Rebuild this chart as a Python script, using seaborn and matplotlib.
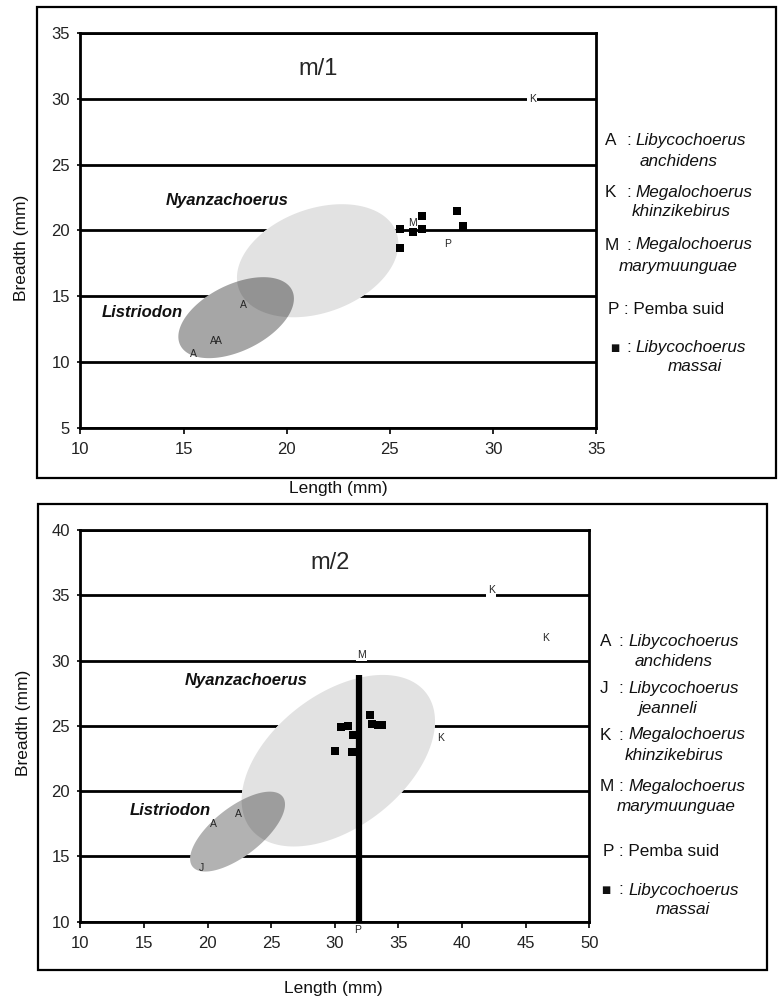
import numpy as np
import pandas as pd
import matplotlib
matplotlib.use("Agg")
import matplotlib.pyplot as plt
from matplotlib.patches import Rectangle
import seaborn as sns

# ---------------- data: m/1 ----------------
m1_massai_x = [25.5, 25.5, 26.1, 26.55, 26.55, 28.25, 28.55]
m1_massai_y = [20.1, 18.7, 19.85, 21.1, 20.1, 21.5, 20.35]
m1_letters = ["K", "M", "P", "A", "A", "A", "A"]
m1_letter_x = [31.9, 26.1, 27.8, 17.9, 16.45, 16.7, 15.5]
m1_letter_y = [30.0, 20.6, 19.0, 14.3, 11.6, 11.6, 10.6]
m1_region_names = ["Nyanzachoerus", "Listriodon"]
m1_region_cx = [21.5, 17.55]
m1_region_cy = [17.7, 13.37]
m1_region_hx = [3.91, 2.80]      # half extent along Length
m1_region_hy = [4.3, 3.08]       # half extent along Breadth
m1_region_rho = [0.30, 0.47]     # tilt (correlation)
m1_region_label_x = [17.1, 13.0]
m1_region_label_y = [22.25, 13.75]
m1_xticks = [10, 15, 20, 25, 30, 35]
m1_yticks = [5, 10, 15, 20, 25, 30, 35]

# ---------------- data: m/2 ----------------
m2_massai_x = [30.0, 31.38, 30.5, 31.07, 31.46, 32.78, 32.95, 33.4, 33.75]
m2_massai_y = [23.1, 23.0, 24.9, 25.0, 24.3, 25.85, 25.15, 25.05, 25.05]
m2_letters = ["K", "K", "K", "M", "P", "A", "A", "J"]
m2_letter_x = [42.3, 46.6, 38.3, 32.1, 31.8, 20.5, 22.4, 19.5]
m2_letter_y = [35.4, 31.75, 24.05, 30.45, 9.35, 17.45, 18.25, 14.1]
m2_pemba_bar_x = [31.88]
m2_pemba_bar_low = [10.0]
m2_pemba_bar_high = [28.9]
m2_region_names = ["Nyanzachoerus", "Listriodon"]
m2_region_cx = [30.28, 22.36]
m2_region_cy = [22.33, 16.9]
m2_region_hx = [7.60, 3.73]
m2_region_hy = [6.57, 3.06]
m2_region_rho = [0.46, 0.68]
m2_region_label_x = [23.0, 17.05]
m2_region_label_y = [28.5, 18.5]
m2_xticks = [10, 15, 20, 25, 30, 35, 40, 45, 50]
m2_yticks = [10, 15, 20, 25, 30, 35, 40]

m1_legend_keys = ["A", "K", "M", "P", "\u25a0"]
m1_legend_genus = ["Libycochoerus", "Megalochoerus", "Megalochoerus", "Pemba suid", "Libycochoerus"]
m1_legend_species = ["anchidens", "khinzikebirus", "marymuunguae", None, "massai"]
m2_legend_keys = ["A", "J", "K", "M", "P", "\u25a0"]
m2_legend_genus = ["Libycochoerus", "Libycochoerus", "Megalochoerus", "Megalochoerus", "Pemba suid", "Libycochoerus"]
m2_legend_species = ["anchidens", "jeanneli", "khinzikebirus", "marymuunguae", None, "massai"]

# ---------------- style ----------------
sns.set_theme(style="white")
plt.rcParams['font.family'] = ['Liberation Sans', 'DejaVu Sans']

W, H = 778, 998
fig = plt.figure(figsize=(W / 100, H / 100), dpi=100)
fig.patch.set_facecolor("white")


def fx(px):
    return px / W


def fy(py):
    return 1 - py / H


def region_outline(cx, cy, hx, hy, rho, n=240):
    t = np.linspace(0, 2 * np.pi, n)
    x = cx + hx * np.cos(t)
    y = cy + hy * (rho * np.cos(t) + np.sqrt(1 - rho ** 2) * np.sin(t))
    return x, y


def panel(ax, title, title_xy, xlim, ylim, xticks, yticks, massai_x, massai_y,
          letters, lx, ly, boxed, names, cx, cy, hx, hy, rho, nlx, nly,
          list_alpha, sq_size, bar=None):
    ax.set_xlim(*xlim)
    ax.set_ylim(*ylim)
    ax.set_xticks(xticks)
    ax.set_yticks(yticks)
    ax.set_xticklabels([str(v) for v in xticks])
    ax.set_yticklabels([str(v) for v in yticks])
    for s in ax.spines.values():
        s.set_visible(True)
        s.set_color("black")
        s.set_linewidth(2.0)
    ax.tick_params(axis="x", direction="out", length=4, width=1.2, color="black",
                   labelsize=12, pad=6, bottom=True, labelcolor="#222222")
    ax.tick_params(axis="y", direction="out", length=2.5, width=1.2, color="black",
                   labelsize=12, pad=5, left=True, labelcolor="#222222")
    for yv in yticks:
        ax.axhline(yv, color="black", lw=2.0, zorder=1)

    outlines = [region_outline(cx[i], cy[i], hx[i], hy[i], rho[i]) for i in range(len(names))]
    for x, y in outlines:
        ax.fill(x, y, color="white", lw=0, zorder=2)
    ax.fill(*outlines[0], color="#e2e2e2", lw=0, zorder=3)
    ax.fill(*outlines[1], color="black", alpha=list_alpha, lw=0, zorder=4)
    for i, nm in enumerate(names):
        ax.text(nlx[i], nly[i], nm, ha="center", va="center", fontsize=12,
                fontweight="bold", fontstyle="italic", color="#111111", zorder=8)

    if bar is not None:
        bx, blo, bhi = bar
        ax.vlines(bx, blo, bhi, color="black", lw=4.5, zorder=5)

    for i, lt in enumerate(letters):
        kw = {}
        if boxed[i]:
            kw["bbox"] = dict(boxstyle="square,pad=0.15", fc="white", ec="none")
        ax.text(lx[i], ly[i], lt, ha="center", va="center", fontsize=7.5,
                zorder=5.5, clip_on=False, **kw)

    df = pd.DataFrame({"Length": massai_x, "Breadth": massai_y})
    sns.scatterplot(data=df, x="Length", y="Breadth", marker="s", s=sq_size,
                    color="black", edgecolor="black", linewidth=0, ax=ax, zorder=6,
                    legend=False)

    ax.text(title_xy[0], title_xy[1], title, ha="center", va="center", fontsize=17, zorder=8)


# ---- top panel ----
ax1 = fig.add_axes([fx(80.3), fy(427.7), (596.3 - 80.3) / W, (427.7 - 33.3) / H])
panel(ax1, "m/1", (21.5, 32.3), (10, 35), (5, 35), m1_xticks, m1_yticks,
      m1_massai_x, m1_massai_y, m1_letters, m1_letter_x, m1_letter_y,
      [l in ("K", "M", "P") for l in m1_letters],
      m1_region_names, m1_region_cx, m1_region_cy, m1_region_hx, m1_region_hy,
      m1_region_rho, m1_region_label_x, m1_region_label_y, 0.35, 27)

# ---- bottom panel ----
ax2 = fig.add_axes([fx(80.3), fy(921.7), (589.2 - 80.3) / W, (921.7 - 530) / H])
panel(ax2, "m/2", (29.6, 37.45), (10, 50), (10, 40), m2_xticks, m2_yticks,
      m2_massai_x, m2_massai_y, m2_letters, m2_letter_x, m2_letter_y,
      [l in ("K", "M", "P") for l in m2_letters],
      m2_region_names, m2_region_cx, m2_region_cy, m2_region_hx, m2_region_hy,
      m2_region_rho, m2_region_label_x, m2_region_label_y, 0.30, 34,
      bar=(m2_pemba_bar_x, m2_pemba_bar_low, m2_pemba_bar_high))

# axis labels
for ax, xl_x, xl_y, yl_x, yl_y in [(ax1, 338, 488, 22, 248), (ax2, 333, 988, 24, 723)]:
    ax.set_xlabel("Length (mm)", fontsize=12.5, color="#111111")
    ax.set_ylabel("Breadth (mm)", fontsize=12.5, color="#111111")
    bb = ax.get_position()
    ax.xaxis.set_label_coords((fx(xl_x) - bb.x0) / bb.width, (fy(xl_y) - bb.y0) / bb.height)
    ax.xaxis.label.set_va("center")
    ax.yaxis.set_label_coords((fx(yl_x) - bb.x0) / bb.width, (fy(yl_y) - bb.y0) / bb.height)
    ax.yaxis.label.set_va("center")

# frames
fig.add_artist(Rectangle((fx(36.5), fy(478)), (776 - 36.5) / W, (478 - 7.5) / H,
                         transform=fig.transFigure, fill=False, ec="black", lw=1.6))
fig.add_artist(Rectangle((fx(37.5), fy(970)), (767 - 37.5) / W, (970 - 503.5) / H,
                         transform=fig.transFigure, fill=False, ec="black", lw=1.6))

LFS = 12.3


def legend(keys, genus, species, key_x, name_x, sq_dx, colon_dx, rows_y, rows2_y, centers2):
    for i, k in enumerate(keys):
        y = fy(rows_y[i])
        if species[i] is None:
            fig.text(fx(key_x + 3), y, k + " : " + genus[i], ha="left", va="center",
                     fontsize=LFS, color="#111111")
        else:
            if k == "\u25a0":
                fig.text(fx(key_x + sq_dx), y, k, ha="left", va="center",
                         fontsize=7, family="DejaVu Sans", color="#111111")
            else:
                fig.text(fx(key_x), y, k, ha="left", va="center", fontsize=LFS,
                         color="#111111")
            fig.text(fx(key_x + colon_dx), y, ":", ha="center", va="center", fontsize=LFS,
                     color="#111111")
            fig.text(fx(name_x), y, genus[i], ha="left", va="center", fontsize=LFS,
                     fontstyle="italic", color="#111111")
            fig.text(fx(centers2[i]), fy(rows2_y[i]), species[i], ha="center", va="center",
                     fontsize=LFS, fontstyle="italic", color="#111111")


legend(m1_legend_keys, m1_legend_genus, m1_legend_species, 605, 635, 5, 24,
       [140.7, 192.7, 245, 309.3, 347.7], [161.7, 212, 266.7, None, 366.7],
       [679, 681, 678, None, 695])
legend(m2_legend_keys, m2_legend_genus, m2_legend_species, 600, 628, 1, 21,
       [641.7, 688.3, 735, 786.7, 851.7, 890], [661.7, 708.3, 755, 806.7, None, 910],
       [674, 668, 674, 676, None, 683])

fig.savefig("out.png", dpi=100, facecolor="white")
